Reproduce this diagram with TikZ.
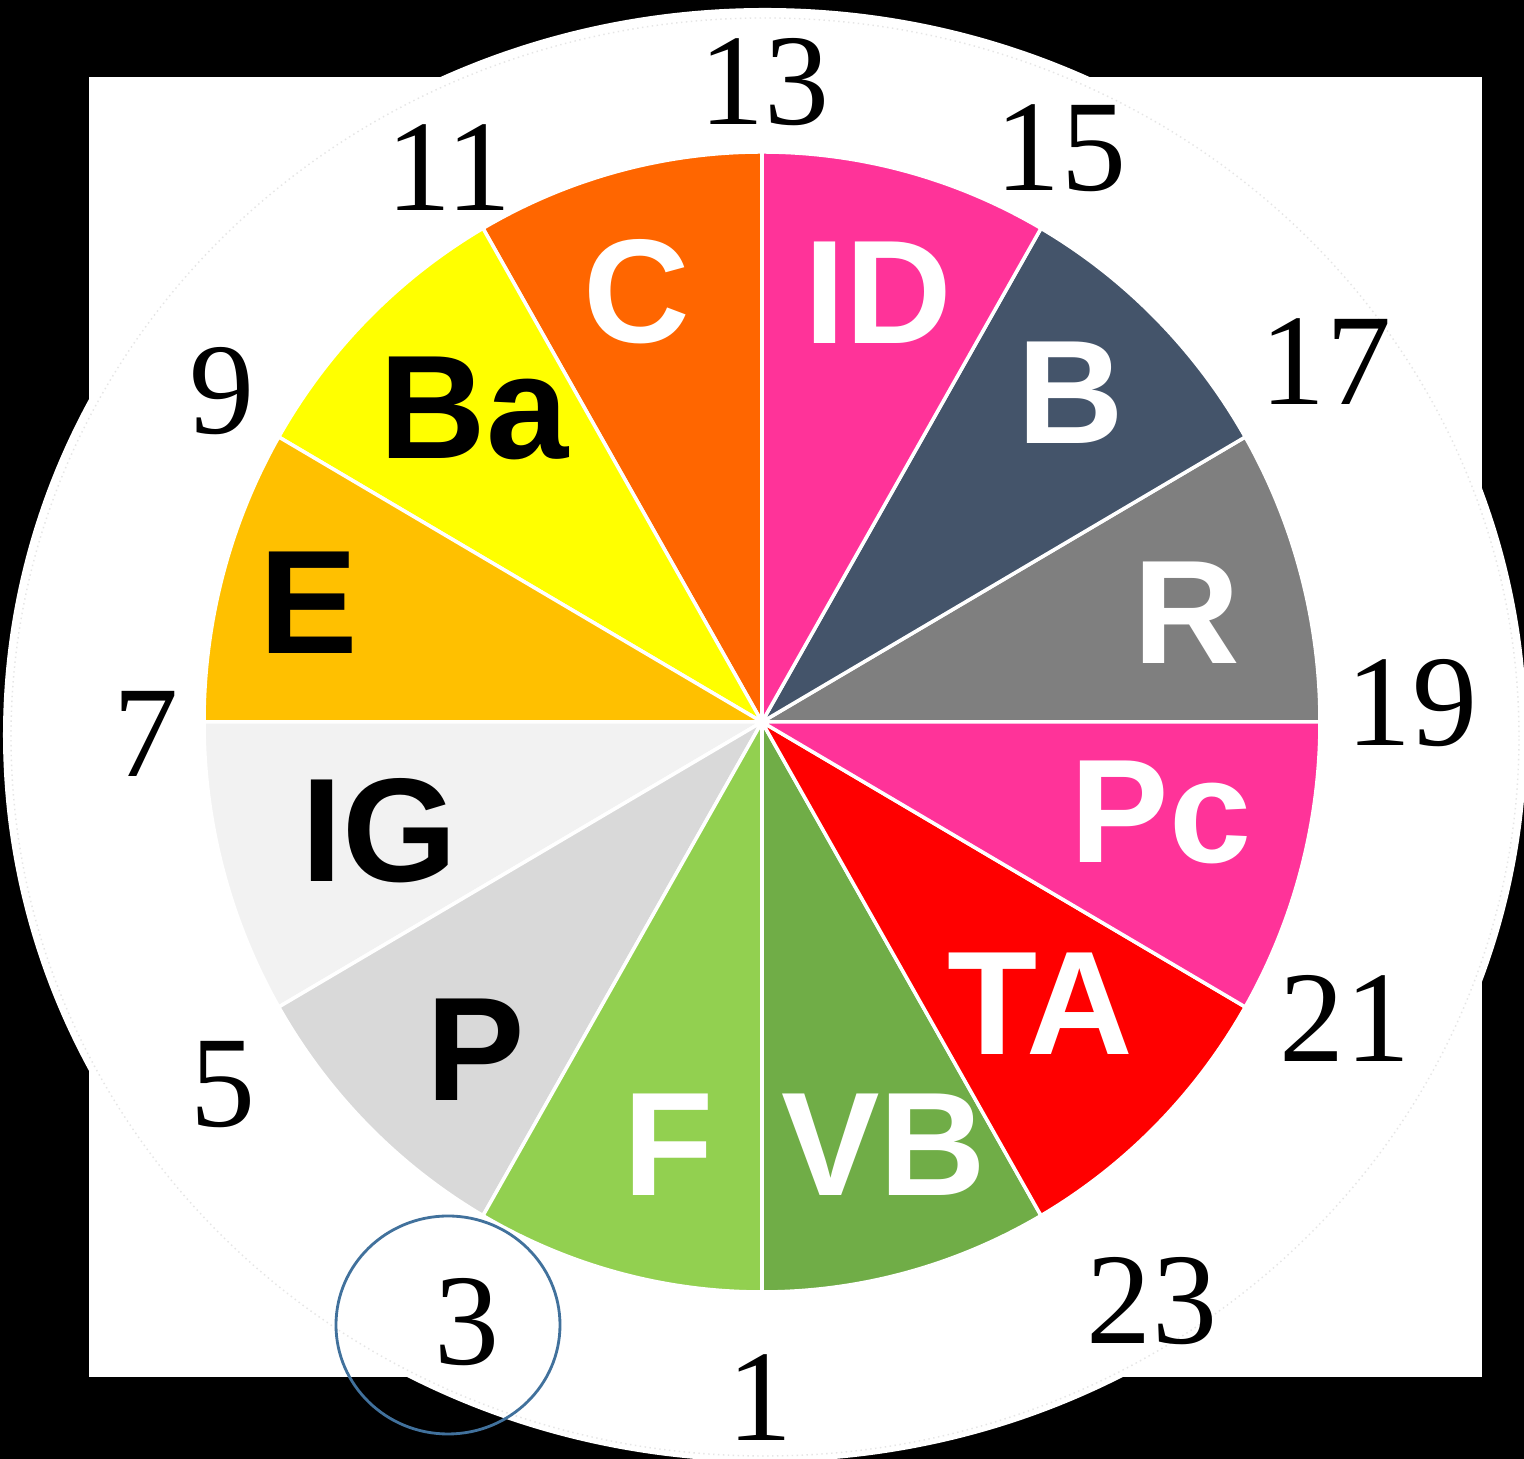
\documentclass[tikz,border=0pt]{standalone}
\usepackage{fontspec}
\setmainfont{Liberation Serif}
\setsansfont{Liberation Sans}
\usepackage{tikz}

\definecolor{segR}{HTML}{7F7F7F}
\definecolor{segB}{HTML}{44546A}
\definecolor{segID}{HTML}{FF3399}
\definecolor{segC}{HTML}{FF6600}
\definecolor{segBa}{HTML}{FFFF00}
\definecolor{segE}{HTML}{FFC000}
\definecolor{segIG}{HTML}{F2F2F2}
\definecolor{segP}{HTML}{D9D9D9}
\definecolor{segF}{HTML}{92D050}
\definecolor{segVB}{HTML}{70AD47}
\definecolor{segTA}{HTML}{FF0000}
\definecolor{segPc}{HTML}{FF3399}
\definecolor{ringblue}{HTML}{41719C}

\begin{document}
\begin{tikzpicture}[every node/.style={inner sep=0pt}, sec/.style={draw=white, line width=1pt, line join=round}, lbl/.style={font=\sffamily\bfseries\fontsize{42}{42}\selectfont}, hour/.style={font=\fontsize{37}{37}\selectfont}]
	\useasboundingbox (-7.62,-7.37) rectangle (7.62,7.22);
	\fill[black] (-7.62,-7.37) rectangle (7.62,7.22);
	\fill[white] (-6.73,-6.55) rectangle (7.20,6.45);
	\fill[white] (0.03,-0.13) ellipse [x radius=7.62, y radius=7.27];
	\draw[black!10, line width=0.4pt, densely dotted] (0.03,-0.15) ellipse [x radius=7.54, y radius=7.19];
	\fill[sec, fill=segR] (0,0) -- (0:5.58 and 5.70) arc[start angle=0, end angle=30, x radius=5.58, y radius=5.70] -- cycle;
	\fill[sec, fill=segB] (0,0) -- (30:5.58 and 5.70) arc[start angle=30, end angle=60, x radius=5.58, y radius=5.70] -- cycle;
	\fill[sec, fill=segID] (0,0) -- (60:5.58 and 5.70) arc[start angle=60, end angle=90, x radius=5.58, y radius=5.70] -- cycle;
	\fill[sec, fill=segC] (0,0) -- (90:5.58 and 5.70) arc[start angle=90, end angle=120, x radius=5.58, y radius=5.70] -- cycle;
	\fill[sec, fill=segBa] (0,0) -- (120:5.58 and 5.70) arc[start angle=120, end angle=150, x radius=5.58, y radius=5.70] -- cycle;
	\fill[sec, fill=segE] (0,0) -- (150:5.58 and 5.70) arc[start angle=150, end angle=180, x radius=5.58, y radius=5.70] -- cycle;
	\fill[sec, fill=segIG] (0,0) -- (180:5.58 and 5.70) arc[start angle=180, end angle=210, x radius=5.58, y radius=5.70] -- cycle;
	\fill[sec, fill=segP] (0,0) -- (210:5.58 and 5.70) arc[start angle=210, end angle=240, x radius=5.58, y radius=5.70] -- cycle;
	\fill[sec, fill=segF] (0,0) -- (240:5.58 and 5.70) arc[start angle=240, end angle=270, x radius=5.58, y radius=5.70] -- cycle;
	\fill[sec, fill=segVB] (0,0) -- (270:5.58 and 5.70) arc[start angle=270, end angle=300, x radius=5.58, y radius=5.70] -- cycle;
	\fill[sec, fill=segTA] (0,0) -- (300:5.58 and 5.70) arc[start angle=300, end angle=330, x radius=5.58, y radius=5.70] -- cycle;
	\fill[sec, fill=segPc] (0,0) -- (330:5.58 and 5.70) arc[start angle=330, end angle=360, x radius=5.58, y radius=5.70] -- cycle;
	\node[lbl, white] (R) at (4.25,1.09) {R};
	\node[lbl, white] (B) at (3.09,3.29) {B};
	\node[lbl, white] (ID) at (1.16,4.29) {ID};
	\node[lbl, white] (C) at (-1.25,4.30) {C};
	\node[lbl] (Ba) at (-2.88,3.14) {Ba};
	\node[lbl] (E) at (-4.53,1.19) {E};
	\node[lbl] (IG) at (-3.83,-1.09) {IG};
	\node[lbl] (P) at (-2.86,-3.28) {P};
	\node[lbl, white] (F) at (-0.93,-4.23) {F};
	\node[lbl, white] (VB) at (1.22,-4.23) {VB};
	\node[lbl, white] (TA) at (2.78,-2.82) {TA};
	\node[lbl, white] (Pc) at (3.99,-0.90) {Pc};
	\node[hour] (h13) at (0.03,6.40) {13};
	\node[hour] (h15) at (2.99,5.74) {15};
	\node[hour] (h17) at (5.64,3.60) {17};
	\node[hour] (h19) at (6.50,0.19) {19};
	\node[hour] (h21) at (5.83,-2.96) {21};
	\node[hour] (h23) at (3.90,-5.79) {23};
	\node[hour] (h1) at (-0.02,-6.76) {1};
	\node[hour] (h3) at (-2.95,-6.00) {3};
	\node[hour] (h5) at (-5.39,-3.63) {5};
	\node[hour] (h7) at (-6.16,-0.12) {7};
	\node[hour] (h9) at (-5.40,3.31) {9};
	\node[hour] (h11) at (-3.13,5.54) {11};
	\draw[ringblue, line width=0.8pt] (-3.14,-6.03) ellipse [x radius=1.12, y radius=1.09];
	\end{tikzpicture}
\end{document}
